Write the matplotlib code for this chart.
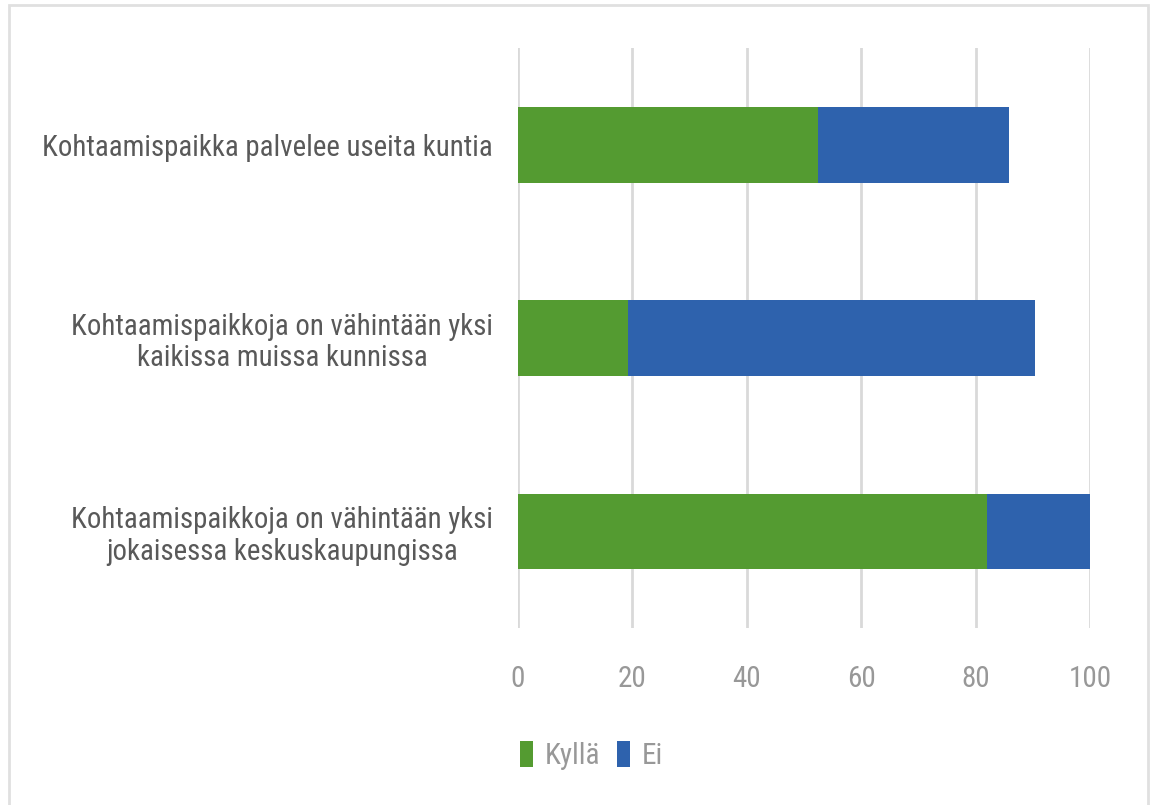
import numpy as np
import matplotlib.pyplot as plt
from matplotlib.patches import Rectangle
from matplotlib import font_manager

# data
categories = ['Kohtaamispaikkoja on vähintään yksi\njokaisessa keskuskaupungissa',
              'Kohtaamispaikkoja on vähintään yksi\nkaikissa muissa kunnissa',
              'Kohtaamispaikka palvelee useita kuntia']
kylla = [82.0, 19.2, 52.4]
ei = [18.0, 71.2, 33.4]
ticks = [0, 20, 40, 60, 80, 100]

names = {f.name for f in font_manager.fontManager.ttflist}
narrow = [n for n in ['Liberation Sans Narrow', 'Roboto Condensed', 'Open Sans Condensed',
                      'Noto Sans Condensed'] if n in names]
if narrow:
    fam, lab_fs, tick_fs = narrow[0], 20.8, 21
else:
    fam, lab_fs, tick_fs = 'Lato', 17.5, 17.5
plt.rcParams['font.family'] = [fam, 'DejaVu Sans']

fig = plt.figure(figsize=(11.51, 8.05), dpi=100)
ax = fig.add_axes([0.45, 0.22, 0.497, 0.72])

green = '#549B31'
blue = '#2E62AD'
y = np.arange(len(categories))
ax.barh(y, kylla, height=0.39, color=green, label='Kyllä', zorder=3)
ax.barh(y, ei, left=kylla, height=0.39, color=blue, label='Ei', zorder=3)

ax.set_xlim(0, 100)
ax.set_ylim(-0.5, 2.5)
ax.set_xticks(ticks)
ax.set_yticks(y)
ax.set_yticklabels(categories, fontsize=lab_fs, color='#595959', linespacing=1.15)
for t in ax.get_yticklabels():
    t.set_multialignment('center')
ax.tick_params(axis='x', labelsize=tick_fs, labelcolor='#989898', length=0, pad=27)
ax.tick_params(axis='y', length=0, pad=18)
ax.grid(axis='x', color='#D9D9D9', linewidth=2, zorder=0)
for s in ax.spines.values():
    s.set_visible(False)

ax.legend(loc='center left', bbox_to_anchor=(-0.042, -0.22), ncol=2, frameon=False,
          fontsize=tick_fs, labelcolor='#989898', handlelength=0.45, handleheight=1.0,
          handletextpad=0.4, columnspacing=0.55)

# outer chart frame
fig.patches.append(Rectangle((9 / 1151, -0.01), 1139 / 1151, 1 - 5 / 805 + 0.01,
                             transform=fig.transFigure, fill=False,
                             edgecolor='#E0E0E0', linewidth=2))

plt.savefig('out.png', dpi=100)
